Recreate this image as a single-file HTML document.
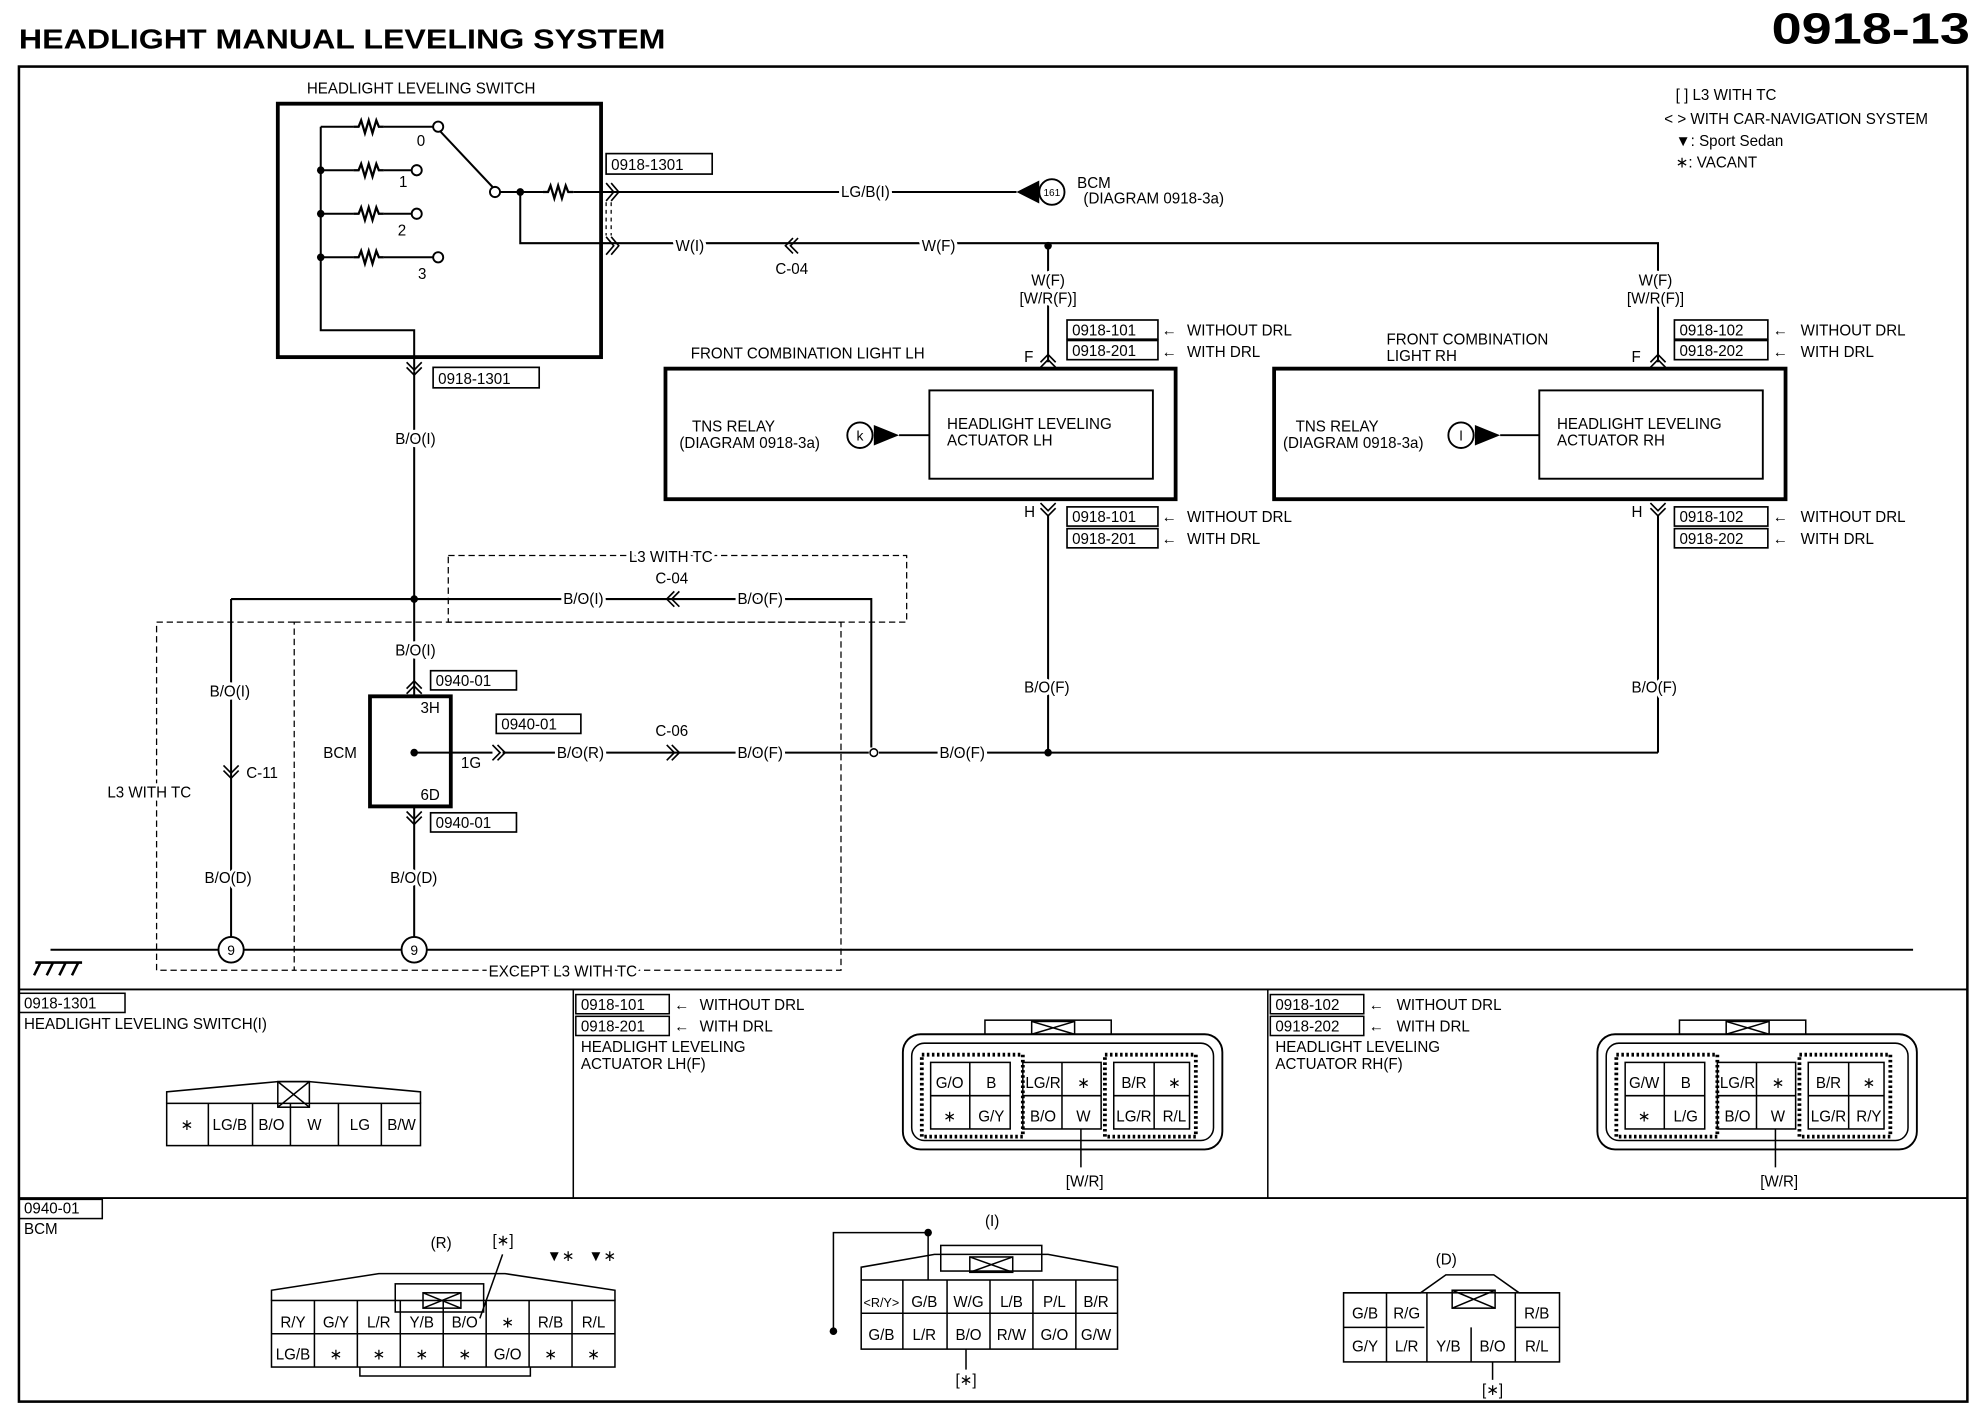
<!DOCTYPE html>
<html><head><meta charset="utf-8"><style>
html,body{margin:0;padding:0;background:#fff;}
svg{display:block;}
text{font-family:"Liberation Sans",sans-serif;fill:#000;}
.lb{paint-order:stroke;stroke:#fff;stroke-width:5px;stroke-linejoin:round;}
</style></head><body>
<svg width="1980" height="1408" viewBox="0 0 1568 1100" preserveAspectRatio="none" xmlns="http://www.w3.org/2000/svg">
<defs>
<g id="res"><polyline points="0,0 4,0 6,-5 9,5 12,-5 15,5 18,-5 20,0 24,0" fill="none" stroke="#000" stroke-width="1.8"/></g>
</defs>
<rect width="1568" height="1100" fill="#fff"/>
<text x="15" y="38" font-size="22" font-weight="bold" textLength="512" lengthAdjust="spacingAndGlyphs">HEADLIGHT MANUAL LEVELING SYSTEM</text>
<text x="1403" y="34" font-size="34" font-weight="bold" textLength="157" lengthAdjust="spacingAndGlyphs">0918-13</text>
<g fill="none" stroke="#000">
<rect x="15" y="52" width="1543" height="1043" stroke-width="2"/>
<line x1="15" y1="773" x2="1558" y2="773" stroke-width="1.5"/>
<line x1="15" y1="936" x2="1558" y2="936" stroke-width="1.5"/>
<line x1="454" y1="773" x2="454" y2="936" stroke-width="1.2"/>
<line x1="1004" y1="773" x2="1004" y2="936" stroke-width="1.2"/>
<rect x="220" y="81" width="256" height="198" stroke-width="3"/>
<g stroke-width="1.6">
<polyline points="254,99 254,258 328,258 328,290"/>
<line x1="254" y1="99" x2="280" y2="99"/><line x1="304" y1="99" x2="343" y2="99"/>
<line x1="254" y1="133" x2="280" y2="133"/><line x1="304" y1="133" x2="326" y2="133"/>
<line x1="254" y1="167" x2="280" y2="167"/><line x1="304" y1="167" x2="326" y2="167"/>
<line x1="254" y1="201" x2="280" y2="201"/><line x1="304" y1="201" x2="343" y2="201"/>
<line x1="349" y1="103" x2="390" y2="146"/>
<line x1="396" y1="150" x2="430" y2="150"/><line x1="454" y1="150" x2="805" y2="150"/>
<polyline points="412,150 412,190 1313,190 1313,283"/>
<line x1="830" y1="190" x2="830" y2="283"/>
</g>
<circle cx="347" cy="99" r="4" stroke-width="1.5"/><circle cx="330" cy="133" r="4" stroke-width="1.5"/>
<circle cx="330" cy="167" r="4" stroke-width="1.5"/><circle cx="347" cy="201" r="4" stroke-width="1.5"/>
<circle cx="392" cy="150" r="4" stroke-width="1.5"/>
<rect x="480" y="120" width="84" height="16" stroke-width="1.3"/>
<rect x="343" y="287" width="84" height="16" stroke-width="1.3"/>
<path d="M480,143 L486,150 L480,157 M484,143 L490,150 L484,157 M480,185 L486,192 L480,199 M484,185 L490,192 L484,199" stroke-width="1.3"/>
<path d="M480,158 L480,184 M484,158 L484,184" stroke-width="1" stroke-dasharray="3,3"/>
<path d="M628,186 L622,192 L628,198 M632,186 L626,192 L632,198" stroke-width="1.3"/>
<circle cx="833" cy="150" r="10" stroke-width="1.5"/>
<path d="M824,283 L830,277 L836,283 M824,287 L830,281 L836,287" stroke-width="1.3"/>
<path d="M1307,283 L1313,277 L1319,283 M1307,287 L1313,281 L1319,287" stroke-width="1.3"/>
<path d="M824,393 L830,399 L836,393 M824,397 L830,403 L836,397" stroke-width="1.3"/>
<path d="M1307,393 L1313,399 L1319,393 M1307,397 L1313,403 L1319,397" stroke-width="1.3"/>
<g stroke-width="1.3">
<rect x="845" y="250" width="72" height="15"/><rect x="845" y="266" width="72" height="15"/>
<rect x="845" y="396" width="72" height="15"/><rect x="845" y="413" width="72" height="15"/>
<rect x="1326" y="250" width="74" height="15"/><rect x="1326" y="266" width="74" height="15"/>
<rect x="1326" y="396" width="74" height="15"/><rect x="1326" y="413" width="74" height="15"/>
</g>
<rect x="527" y="288" width="404" height="102" stroke-width="3"/>
<rect x="736" y="305" width="177" height="69" stroke-width="1.5"/>
<rect x="1009" y="288" width="405" height="102" stroke-width="3"/>
<rect x="1219" y="305" width="177" height="69" stroke-width="1.5"/>
<circle cx="681" cy="340" r="10" stroke-width="1.5"/><line x1="712" y1="340" x2="736" y2="340" stroke-width="1.5"/>
<circle cx="1157" cy="340" r="10" stroke-width="1.5"/><line x1="1188" y1="340" x2="1219" y2="340" stroke-width="1.5"/>
<g stroke-width="1.6">
<line x1="830" y1="403" x2="830" y2="588"/><line x1="1313" y1="403" x2="1313" y2="588"/>
<line x1="696" y1="588" x2="1313" y2="588"/>
<line x1="328" y1="290" x2="328" y2="544"/>
<line x1="183" y1="468" x2="628" y2="468"/>
<polyline points="628,468 690,468 690,584"/>
<line x1="183" y1="468" x2="183" y2="732"/>
<line x1="328" y1="630" x2="328" y2="732"/>
<line x1="328" y1="588" x2="390" y2="588"/><line x1="398" y1="588" x2="688" y2="588"/>
<line x1="40" y1="742" x2="173" y2="742"/><line x1="193" y1="742" x2="318" y2="742"/><line x1="338" y1="742" x2="1515" y2="742"/>
</g>
<circle cx="692" cy="588" r="3" stroke-width="1.2"/>
<rect x="293" y="544" width="64" height="86" stroke-width="3"/>
<g stroke-width="1.3">
<rect x="341" y="524" width="68" height="15"/><rect x="393" y="558" width="67" height="15"/><rect x="341" y="635" width="68" height="15"/>
</g>
<path d="M322,538 L328,532 L334,538 M322,542 L328,536 L334,542" stroke-width="1.3"/>
<path d="M322,634 L328,640 L334,634 M322,638 L328,644 L334,638" stroke-width="1.3"/>
<path d="M322,283 L328,289 L334,283 M322,287 L328,293 L334,287" stroke-width="1.3"/>
<path d="M390,582 L396,588 L390,594 M394,582 L400,588 L394,594" stroke-width="1.3"/>
<path d="M528,582 L534,588 L528,594 M532,582 L538,588 L532,594" stroke-width="1.3"/>
<path d="M534,462 L528,468 L534,474 M538,462 L532,468 L538,474" stroke-width="1.3"/>
<path d="M177,598 L183,604 L189,598 M177,602 L183,608 L189,602" stroke-width="1.3"/>
<circle cx="183" cy="742" r="10" stroke-width="1.5"/><circle cx="328" cy="742" r="10" stroke-width="1.5"/>
<g stroke-width="1" stroke-dasharray="5,3">
<rect x="355" y="434" width="363" height="52"/>
<polyline points="233,486 124,486 124,758 233,758"/>
<rect x="233" y="486" width="433" height="272"/>
</g>
<path d="M28,752 L65,752 M32,752 L27,762 M42,752 L37,762 M52,752 L47,762 M62,752 L57,762" stroke-width="2"/>
</g>
<g fill="#000">
<use href="#res" x="280" y="99"/><use href="#res" x="280" y="133"/><use href="#res" x="280" y="167"/><use href="#res" x="280" y="201"/>
<use href="#res" x="430" y="150"/>
<circle cx="254" cy="133" r="3"/><circle cx="254" cy="167" r="3"/><circle cx="254" cy="201" r="3"/><circle cx="412" cy="150" r="3"/>
<circle cx="830" cy="192" r="3"/><circle cx="830" cy="588" r="3"/><circle cx="328" cy="468" r="3"/><circle cx="328" cy="588" r="3"/>
<polygon points="805,150 823,141 823,159"/>
<polygon points="692,332 712,340 692,348"/>
<polygon points="1168,332 1188,340 1168,348"/>
</g>
<g font-size="12">
<text x="243" y="73">HEADLIGHT LEVELING SWITCH</text>
<text x="330" y="114">0</text><text x="316" y="146">1</text><text x="315" y="184">2</text><text x="331" y="218">3</text>
<text x="484" y="133">0918-1301</text>
<text x="347" y="300">0918-1301</text>
<text class="lb" x="666" y="154">LG/B(I)</text>
<text x="853" y="147">BCM</text><text x="858" y="159">(DIAGRAM 0918-3a)</text>
<text x="833" y="153" text-anchor="middle" font-size="8">161</text>
<text class="lb" x="535" y="196">W(I)</text><text x="614" y="214">C-04</text><text class="lb" x="730" y="196">W(F)</text>
<text class="lb" x="830" y="223" text-anchor="middle">W(F)</text><text class="lb" x="830" y="237" text-anchor="middle">[W/R(F)]</text>
<text class="lb" x="1311" y="223" text-anchor="middle">W(F)</text><text class="lb" x="1311" y="237" text-anchor="middle">[W/R(F)]</text>
<text x="849" y="262">0918-101</text><text x="849" y="278">0918-201</text>
<text x="849" y="408">0918-101</text><text x="849" y="425">0918-201</text>
<text x="1330" y="262">0918-102</text><text x="1330" y="278">0918-202</text>
<text x="1330" y="408">0918-102</text><text x="1330" y="425">0918-202</text>
<text x="940" y="262">WITHOUT DRL</text><text x="940" y="279">WITH DRL</text>
<text x="940" y="408">WITHOUT DRL</text><text x="940" y="425">WITH DRL</text>
<text x="1426" y="262">WITHOUT DRL</text><text x="1426" y="279">WITH DRL</text>
<text x="1426" y="408">WITHOUT DRL</text><text x="1426" y="425">WITH DRL</text>
<text x="811" y="283">F</text><text x="1292" y="283">F</text><text x="811" y="404">H</text><text x="1292" y="404">H</text>
<text x="547" y="280">FRONT COMBINATION LIGHT LH</text>
<text x="1098" y="269">FRONT COMBINATION</text><text x="1098" y="282">LIGHT RH</text>
<text x="548" y="337">TNS RELAY</text><text x="538" y="350">(DIAGRAM 0918-3a)</text>
<text x="1026" y="337">TNS RELAY</text><text x="1016" y="350">(DIAGRAM 0918-3a)</text>
<text x="750" y="335">HEADLIGHT LEVELING</text><text x="750" y="348">ACTUATOR LH</text>
<text x="1233" y="335">HEADLIGHT LEVELING</text><text x="1233" y="348">ACTUATOR RH</text>
<text x="681" y="344" text-anchor="middle" font-size="11">k</text><text x="1157" y="344" text-anchor="middle" font-size="11">l</text>
<text x="1327" y="78">[ ] L3 WITH TC</text>
<text x="1318" y="97">&lt; &gt; WITH CAR-NAVIGATION SYSTEM</text>
<text x="1327" y="114">▼: Sport Sedan</text>
<text x="1327" y="131">∗: VACANT</text>
<text class="lb" x="313" y="347">B/O(I)</text>
<text class="lb" x="498" y="439">L3 WITH TC</text>
<text x="519" y="456">C-04</text>
<text class="lb" x="446" y="472">B/O(I)</text><text class="lb" x="584" y="472">B/O(F)</text>
<text class="lb" x="313" y="512">B/O(I)</text>
<text x="345" y="536">0940-01</text><text x="397" y="570">0940-01</text><text x="345" y="647">0940-01</text>
<text x="333" y="557">3H</text><text x="365" y="600">1G</text><text x="333" y="625">6D</text>
<text x="256" y="592">BCM</text>
<text class="lb" x="441" y="592">B/O(R)</text><text x="519" y="575">C-06</text><text class="lb" x="584" y="592">B/O(F)</text><text class="lb" x="744" y="592">B/O(F)</text>
<text class="lb" x="811" y="541">B/O(F)</text><text class="lb" x="1292" y="541">B/O(F)</text>
<text class="lb" x="166" y="544">B/O(I)</text><text x="195" y="608">C-11</text>
<text class="lb" x="85" y="623">L3 WITH TC</text>
<text class="lb" x="162" y="690">B/O(D)</text><text class="lb" x="309" y="690">B/O(D)</text>
<text x="183" y="746" text-anchor="middle" font-size="11">9</text><text x="328" y="746" text-anchor="middle" font-size="11">9</text>
<text class="lb" x="387" y="763">EXCEPT L3 WITH TC</text>
</g>
<g fill="none" stroke="#000" stroke-width="1.2">
<rect x="15" y="776" width="84" height="15"/>
<rect x="456" y="777" width="74" height="15"/><rect x="456" y="794" width="74" height="15"/>
<rect x="1006" y="777" width="74" height="15"/><rect x="1006" y="794" width="74" height="15"/>
<rect x="15" y="937" width="66" height="15"/>
<polyline points="132,862 132,853 220,845 245,845 333,853 333,862"/>
<rect x="220" y="845" width="25" height="20"/><path d="M220,845 L245,865 M245,845 L220,865"/>
<rect x="132" y="862" width="201" height="33"/>
<path d="M165,862V895M200,862V895M230,862V895M268,862V895M302,862V895"/>
<rect x="715" y="808" width="253" height="90" rx="14" stroke-width="1.5"/>
<rect x="722" y="815" width="239" height="76" rx="10"/>
<rect x="780" y="797" width="100" height="11"/><rect x="817" y="798" width="34" height="10"/><path d="M817,798L851,808M851,798L817,808"/>
<rect x="730" y="824" width="80" height="64" stroke-width="3" stroke-dasharray="2,2"/>
<rect x="875" y="824" width="72" height="64" stroke-width="3" stroke-dasharray="2,2"/>
<rect x="737" y="830" width="63" height="52"/><path d="M737,856H800M768,830V882"/>
<rect x="810" y="830" width="62" height="52"/><path d="M810,856H872M841,830V882"/>
<rect x="882" y="830" width="60" height="52"/><path d="M882,856H942M914,830V882"/>
<line x1="856" y1="882" x2="856" y2="912"/>
<rect x="1265" y="808" width="253" height="90" rx="14" stroke-width="1.5"/>
<rect x="1272" y="815" width="239" height="76" rx="10"/>
<rect x="1330" y="797" width="100" height="11"/><rect x="1367" y="798" width="34" height="10"/><path d="M1367,798L1401,808M1401,798L1367,808"/>
<rect x="1280" y="824" width="80" height="64" stroke-width="3" stroke-dasharray="2,2"/>
<rect x="1425" y="824" width="72" height="64" stroke-width="3" stroke-dasharray="2,2"/>
<rect x="1287" y="830" width="63" height="52"/><path d="M1287,856H1350M1318,830V882"/>
<rect x="1360" y="830" width="62" height="52"/><path d="M1360,856H1422M1391,830V882"/>
<rect x="1432" y="830" width="60" height="52"/><path d="M1432,856H1492M1464,830V882"/>
<line x1="1406" y1="882" x2="1406" y2="912"/>
<polyline points="215,1016 215,1008 300,995 400,995 487,1008 487,1016"/>
<rect x="313" y="1003" width="70" height="22"/><rect x="335" y="1010" width="30" height="12"/><path d="M335,1010L365,1022M365,1010L335,1022"/>
<rect x="215" y="1016" width="272" height="52"/>
<path d="M215,1042H487M249,1016V1068M283,1016V1068M317,1016V1068M351,1016V1068M385,1016V1068M419,1016V1068M453,1016V1068"/>
<polyline points="285,1068 285,1075 420,1075 420,1068"/>
<line x1="380" y1="1030" x2="398" y2="980"/>
<polyline points="682,1000 682,990 740,980 830,980 885,990 885,1000"/>
<rect x="745" y="973" width="80" height="20"/><rect x="768" y="982" width="34" height="12"/><path d="M768,982L802,994M802,982L768,994"/>
<rect x="682" y="1000" width="203" height="54"/>
<path d="M682,1026H885M715,1000V1054M750,1000V1054M784,1000V1054M818,1000V1054M852,1000V1054"/>
<polyline points="660,1040 660,963 735,963 735,1000"/>
<line x1="765" y1="1054" x2="765" y2="1070"/>
<polyline points="1064,1010 1125,1010 1145,996 1183,996 1203,1010 1235,1010"/>
<rect x="1150" y="1008" width="34" height="14"/><path d="M1150,1008L1184,1022M1184,1008L1150,1022"/>
<rect x="1064" y="1010" width="171" height="54"/>
<path d="M1064,1037H1128M1200,1037H1235M1098,1010V1064M1130,1010V1064M1165,1037V1064M1200,1010V1064"/>
<line x1="1182" y1="1064" x2="1182" y2="1078"/>
</g>
<g fill="#000"><circle cx="735" cy="963" r="3"/><circle cx="660" cy="1040" r="3"/></g>
<g font-size="12">
<text x="19" y="788">0918-1301</text><text x="19" y="804">HEADLIGHT LEVELING SWITCH(I)</text>
<text x="148" y="883" text-anchor="middle">∗</text><text x="182" y="883" text-anchor="middle">LG/B</text><text x="215" y="883" text-anchor="middle">B/O</text>
<text x="249" y="883" text-anchor="middle">W</text><text x="285" y="883" text-anchor="middle">LG</text><text x="318" y="883" text-anchor="middle">B/W</text>
<text x="460" y="789">0918-101</text><text x="460" y="806">0918-201</text>
<text x="554" y="789">WITHOUT DRL</text><text x="554" y="806">WITH DRL</text>
<text x="460" y="822">HEADLIGHT LEVELING</text><text x="460" y="835">ACTUATOR LH(F)</text>
<text x="1010" y="789">0918-102</text><text x="1010" y="806">0918-202</text>
<text x="1106" y="789">WITHOUT DRL</text><text x="1106" y="806">WITH DRL</text>
<text x="1010" y="822">HEADLIGHT LEVELING</text><text x="1010" y="835">ACTUATOR RH(F)</text>
<text x="534" y="789">←</text><text x="534" y="806">←</text><text x="1084" y="789">←</text><text x="1084" y="806">←</text>
<text x="920" y="262">←</text><text x="920" y="279">←</text><text x="920" y="408">←</text><text x="920" y="425">←</text>
<text x="1404" y="262">←</text><text x="1404" y="279">←</text><text x="1404" y="408">←</text><text x="1404" y="425">←</text>
<text x="752" y="850" text-anchor="middle">G/O</text><text x="785" y="850" text-anchor="middle">B</text>
<text x="826" y="850" text-anchor="middle">LG/R</text><text x="858" y="850" text-anchor="middle">∗</text>
<text x="898" y="850" text-anchor="middle">B/R</text><text x="930" y="850" text-anchor="middle">∗</text>
<text x="752" y="876" text-anchor="middle">∗</text><text x="785" y="876" text-anchor="middle">G/Y</text>
<text x="826" y="876" text-anchor="middle">B/O</text><text x="858" y="876" text-anchor="middle">W</text>
<text x="898" y="876" text-anchor="middle">LG/R</text><text x="930" y="876" text-anchor="middle">R/L</text>
<text x="859" y="927" text-anchor="middle">[W/R]</text>
<text x="1302" y="850" text-anchor="middle">G/W</text><text x="1335" y="850" text-anchor="middle">B</text>
<text x="1376" y="850" text-anchor="middle">LG/R</text><text x="1408" y="850" text-anchor="middle">∗</text>
<text x="1448" y="850" text-anchor="middle">B/R</text><text x="1480" y="850" text-anchor="middle">∗</text>
<text x="1302" y="876" text-anchor="middle">∗</text><text x="1335" y="876" text-anchor="middle">L/G</text>
<text x="1376" y="876" text-anchor="middle">B/O</text><text x="1408" y="876" text-anchor="middle">W</text>
<text x="1448" y="876" text-anchor="middle">LG/R</text><text x="1480" y="876" text-anchor="middle">R/Y</text>
<text x="1409" y="927" text-anchor="middle">[W/R]</text>
<text x="19" y="948">0940-01</text><text x="19" y="964">BCM</text>
<text x="341" y="975">(R)</text><text x="390" y="973">[∗]</text><text x="433" y="985">▼∗</text><text x="466" y="985">▼∗</text>
<text x="232" y="1037" text-anchor="middle">R/Y</text><text x="266" y="1037" text-anchor="middle">G/Y</text><text x="300" y="1037" text-anchor="middle">L/R</text>
<text x="334" y="1037" text-anchor="middle">Y/B</text><text x="368" y="1037" text-anchor="middle">B/O</text><text x="402" y="1037" text-anchor="middle">∗</text>
<text x="436" y="1037" text-anchor="middle">R/B</text><text x="470" y="1037" text-anchor="middle">R/L</text>
<text x="232" y="1062" text-anchor="middle">LG/B</text><text x="266" y="1062" text-anchor="middle">∗</text><text x="300" y="1062" text-anchor="middle">∗</text>
<text x="334" y="1062" text-anchor="middle">∗</text><text x="368" y="1062" text-anchor="middle">∗</text><text x="402" y="1062" text-anchor="middle">G/O</text>
<text x="436" y="1062" text-anchor="middle">∗</text><text x="470" y="1062" text-anchor="middle">∗</text>
<text x="780" y="958">(I)</text>
<text x="698" y="1021" text-anchor="middle" font-size="10">&lt;R/Y&gt;</text><text x="732" y="1021" text-anchor="middle">G/B</text>
<text x="767" y="1021" text-anchor="middle">W/G</text><text x="801" y="1021" text-anchor="middle">L/B</text>
<text x="835" y="1021" text-anchor="middle">P/L</text><text x="868" y="1021" text-anchor="middle">B/R</text>
<text x="698" y="1047" text-anchor="middle">G/B</text><text x="732" y="1047" text-anchor="middle">L/R</text>
<text x="767" y="1047" text-anchor="middle">B/O</text><text x="801" y="1047" text-anchor="middle">R/W</text>
<text x="835" y="1047" text-anchor="middle">G/O</text><text x="868" y="1047" text-anchor="middle">G/W</text>
<text x="765" y="1082" text-anchor="middle">[∗]</text>
<text x="1137" y="988">(D)</text>
<text x="1081" y="1030" text-anchor="middle">G/B</text><text x="1114" y="1030" text-anchor="middle">R/G</text><text x="1217" y="1030" text-anchor="middle">R/B</text>
<text x="1081" y="1056" text-anchor="middle">G/Y</text><text x="1114" y="1056" text-anchor="middle">L/R</text><text x="1147" y="1056" text-anchor="middle">Y/B</text>
<text x="1182" y="1056" text-anchor="middle">B/O</text><text x="1217" y="1056" text-anchor="middle">R/L</text>
<text x="1182" y="1090" text-anchor="middle">[∗]</text>
</g>
</svg>
</body></html>
